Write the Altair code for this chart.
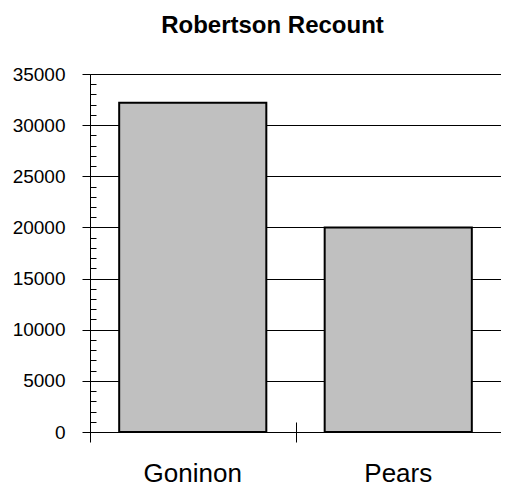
import altair as alt
import pandas as pd

candidates = ["Goninon", "Pears"]
votes = [32200, 20000]
major_ticks = [0, 5000, 10000, 15000, 20000, 25000, 30000, 35000]
minor_ticks = list(range(0, 35001, 1000))

df = pd.DataFrame({"candidate": candidates, "votes": votes})

base = alt.Chart(df)

bars = base.mark_bar(color="#C0C0C0", stroke="black", strokeWidth=2).encode(
    x=alt.X("candidate:N", sort=candidates, title=None,
            scale=alt.Scale(paddingInner=0.284, paddingOuter=0.142),
            axis=alt.Axis(orient="bottom", ticks=False, domain=True, domainColor="black",
                          domainWidth=1, labelAngle=0, labelFont="Liberation Sans",
                          labelFontSize=26, labelColor="black", labelPadding=28, grid=False)),
    y=alt.Y("votes:Q", title=None,
            scale=alt.Scale(domain=[0, 35000], nice=False),
            axis=alt.Axis(orient="left", values=major_ticks, grid=True, gridColor="black",
                          gridWidth=1, gridOpacity=1, tickSize=8, tickColor="black",
                          domainColor="black", domainWidth=1, labelFont="Liberation Sans",
                          labelFontSize=19, labelColor="black", labelPadding=17, format="d")),
)

ticks_layer = base.mark_bar(opacity=0).encode(
    x=alt.X("candidate:N", sort=candidates, title=None,
            scale=alt.Scale(paddingInner=0, paddingOuter=0),
            axis=alt.Axis(orient="bottom", labels=False, domain=False, ticks=True,
                          tickBand="extent", tickSize=20, tickColor="black", offset=-10,
                          grid=False)),
    y=alt.Y("votes:Q", title=None,
            scale=alt.Scale(domain=[0, 35000], nice=False),
            axis=alt.Axis(orient="left", values=minor_ticks, labels=False, domain=False,
                          grid=False, tickSize=6, tickColor="black", offset=-6)),
)

chart = alt.layer(bars, ticks_layer).resolve_scale(x="independent", y="independent").properties(
    width=411, height=358,
    autosize=alt.AutoSizeParams(type="none"),
    padding={"left": 82, "top": 66, "right": 0, "bottom": 54},
    title=alt.TitleParams("Robertson Recount", font="Liberation Sans", fontSize=24,
                          fontWeight="bold", color="black", anchor="middle", dx=-23,
                          offset=27),
).configure_view(stroke=None).configure(background="white")

chart.save("out.html", embed_options={"renderer": "svg", "actions": False})
